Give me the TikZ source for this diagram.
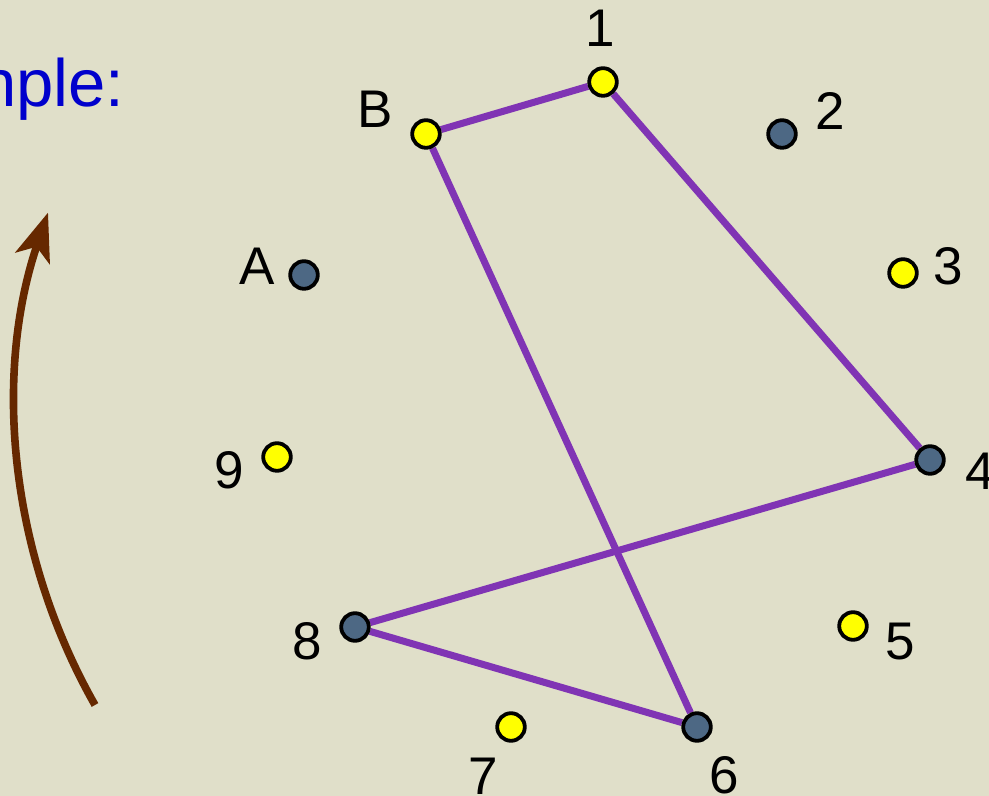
\documentclass[tikz,border=0pt]{standalone}
\usepackage{fontspec}
\setmainfont{Liberation Sans}
\usepackage{xcolor}
\usepackage{tikz}
\usetikzlibrary{
  arrows.meta,
  backgrounds
}
\definecolor{PaperBeige}{HTML}{E0DFC9}
\definecolor{DotYellow}{HTML}{FFFF00}
\definecolor{DotSlate}{HTML}{4D6884}
\definecolor{ChordPurple}{HTML}{8034B4}
\definecolor{ArrowBrown}{HTML}{662800}
\definecolor{TitleBlue}{HTML}{0000CC}
\pgfdeclarelayer{paper}
\pgfsetlayers{paper,background,main}
\tikzset{
  dot/.style={
    circle,
    draw=black,
    line width=1.9pt,
    inner sep=0pt,
    minimum size=13.8pt
  },
  yellowdot/.style={
    dot,
    fill=DotYellow
  },
  slatedot/.style={
    dot,
    fill=DotSlate
  },
  ptlabel/.style={
    inner sep=0pt,
    font=\fontsize{26.5}{30}\selectfont
  },
  heading/.style={
    inner sep=0pt,
    text=TitleBlue,
    font=\fontsize{33.5}{38}\selectfont
  },
  chord/.style={
    draw=ChordPurple,
    line width=3.5pt
  },
  turnarrow/.style={
    draw=ArrowBrown,
    line width=3.8pt,
    -{Stealth[length=24pt,width=18pt,inset=6pt]}
  }
}

\begin{document}
\begin{tikzpicture}[x=0.5pt,y=0.5pt]

  \useasboundingbox (0,0) rectangle (989,796);
  \clip (0,0) rectangle (989,796);
  \begin{pgfonlayer}{paper}
    \fill[PaperBeige] (0,0) rectangle (989,796);
  \end{pgfonlayer}

  % title, cut at the left edge
  \node[
    heading,
    anchor=base east
  ] (title) at (125,689) {
    nple:
  };

  % points round the circle
  \node[yellowdot] (p1) at (603,714) {};
  \node[yellowdot] (pB) at (426,662) {};
  \node[slatedot] (p2) at (782,662) {};
  \node[slatedot] (pA) at (304,521) {};
  \node[yellowdot] (p3) at (903,523) {};
  \node[yellowdot] (p9) at (277,339) {};
  \node[slatedot] (p4) at (930,336) {};
  \node[slatedot] (p8) at (355,169) {};
  \node[yellowdot] (p5) at (853,170) {};
  \node[yellowdot] (p7) at (511,69) {};
  \node[slatedot] (p6) at (697,69) {};

  \node[ptlabel] (lab1) at (600,768) {1};
  \node[ptlabel] (labB) at (375,687) {B};
  \node[ptlabel] (lab2) at (830,685) {2};
  \node[ptlabel] (labA) at (257,530) {A};
  \node[ptlabel] (lab3) at (948,530) {3};
  \node[ptlabel] (lab9) at (229,326) {9};
  \node[ptlabel] (lab4) at (980,325) {4};
  \node[ptlabel] (lab8) at (307,155) {8};
  \node[ptlabel] (lab5) at (900,154) {5};
  \node[ptlabel] (lab7) at (483,20) {7};
  \node[ptlabel] (lab6) at (724,21) {6};

  \begin{scope}[on background layer]
    \draw[chord] (pB) -- (p1);
    \draw[chord] (p1) -- (p4);
    \draw[chord] (pB) -- (p6);
    \draw[chord] (p4) -- (p8);
    \draw[chord] (p8) -- (p6);
  \end{scope}

  % direction of travel
  \coordinate (turnstart) at (95,91);
  \draw[turnarrow]
  (turnstart) arc[start angle=209.6, end angle=161.3, radius=604.5];

\end{tikzpicture}
\end{document}
